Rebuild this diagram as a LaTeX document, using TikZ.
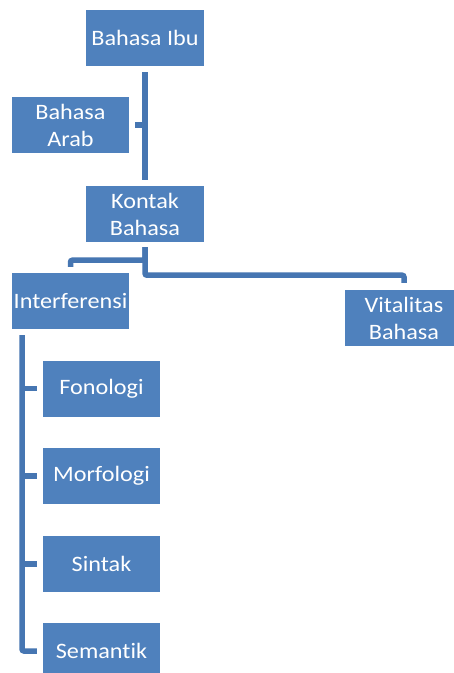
\documentclass[tikz,border=0pt]{standalone}
\usepackage{fontspec}
\setmainfont{Carlito}[FakeStretch=1.1, Ligatures={NoCommon,NoDiscretionary,NoRare}]
\usetikzlibrary{calc}
\definecolor{boxblue}{RGB}{79,129,189}
\definecolor{lineblue}{RGB}{70,118,178}
\tikzset{
  box/.style={fill=boxblue, text=white, minimum width=118pt, minimum height=56pt,
    inner sep=2pt, align=center, font=\fontsize{22}{27}\selectfont},
  conn/.style={draw=lineblue, line width=5.5pt, rounded corners=2pt}
}
\begin{document}
\begin{tikzpicture}[x=1pt,y=-1pt]
\useasboundingbox (0,0) rectangle (454,673);
\clip (0,0) rectangle (454,673);
\fill[white] (0,0) rectangle (454,673);
\node[box] (ibu) at (145,38) {Bahasa Ibu};
\node[box, minimum width=117pt] (arab) at (70.5,125) {Bahasa\\Arab};
\node[box] (kontak) at (145,214) {Kontak\\Bahasa};
\node[box, minimum width=117pt] (interf) at (70.5,301) {Interferensi};
\node[box] (vital) at (404,318) {Vitalitas\\Bahasa};
\node[box, minimum width=117pt] (fon) at (101.5,388.5) {Fonologi};
\node[box, minimum width=117pt] (mor) at (101.5,476) {Morfologi};
\node[box, minimum width=117pt] (sin) at (101.5,564) {Sintak};
\node[box, minimum width=117pt] (sem) at (101.5,651) {Semantik};
\coordinate (trunk) at (22,0);
% connectors
\draw[conn, shorten <=6pt, shorten >=6pt] (ibu.south) -- (kontak.north);
\draw[conn, shorten <=6pt] (arab.east) -- (arab.east -| ibu.south);
\draw[conn, shorten <=5pt, shorten >=6pt] (kontak.south) -- ++(0,18) -| (interf.north);
\draw[conn, shorten <=5pt, shorten >=7pt] (kontak.south) -- ++(0,33) -| (vital.north);
\draw[conn, shorten <=6pt, shorten >=6pt] (interf.south -| trunk) |- (sem.west);
\draw[conn, shorten >=6pt] (fon.west -| trunk) -- (fon.west);
\draw[conn, shorten >=6pt] (mor.west -| trunk) -- (mor.west);
\draw[conn, shorten >=6pt] (sin.west -| trunk) -- (sin.west);
\end{tikzpicture}
\end{document}
